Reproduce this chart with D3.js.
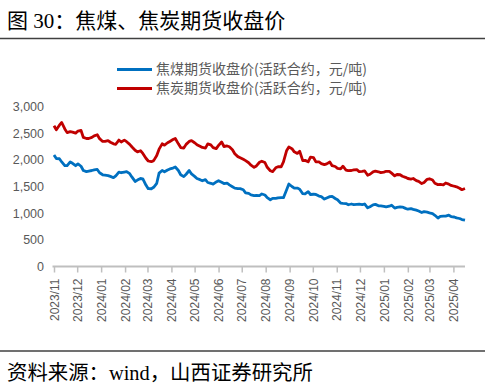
<!DOCTYPE html>
<html>
<head>
<meta charset="utf-8">
<script src="https://d3js.org/d3.v7.min.js"></script>
<style>
  html, body { margin: 0; padding: 0; background: #fff; }
</style>
</head>
<body>
<svg id="chart"></svg>
<script>
// 取样日期：每周三 + 每周六
const wedDates = [
  "2023-11-01","2023-11-08","2023-11-15","2023-11-22","2023-11-29","2023-12-06","2023-12-13","2023-12-20","2023-12-27",
  "2024-01-03","2024-01-10","2024-01-17","2024-01-24","2024-01-31","2024-02-07","2024-02-14","2024-02-21","2024-02-28",
  "2024-03-06","2024-03-13","2024-03-20","2024-03-27","2024-04-03","2024-04-10","2024-04-17","2024-04-24",
  "2024-05-01","2024-05-08","2024-05-15","2024-05-22","2024-05-29","2024-06-05","2024-06-12","2024-06-19","2024-06-26",
  "2024-07-03","2024-07-10","2024-07-17","2024-07-24","2024-07-31","2024-08-07","2024-08-14","2024-08-21","2024-08-28",
  "2024-09-04","2024-09-11","2024-09-18","2024-09-25","2024-10-02","2024-10-09","2024-10-16","2024-10-23","2024-10-30",
  "2024-11-06","2024-11-13","2024-11-20","2024-11-27","2024-12-04","2024-12-11","2024-12-18","2024-12-25",
  "2025-01-01","2025-01-08","2025-01-15","2025-01-22","2025-01-29","2025-02-05","2025-02-12","2025-02-19","2025-02-26",
  "2025-03-05","2025-03-12","2025-03-19","2025-03-26","2025-04-02","2025-04-09","2025-04-16"
];
const satDates = [
  "2023-11-04","2023-11-11","2023-11-18","2023-11-25","2023-12-02","2023-12-09","2023-12-16","2023-12-23","2023-12-30",
  "2024-01-06","2024-01-13","2024-01-20","2024-01-27","2024-02-03","2024-02-10","2024-02-17","2024-02-24","2024-03-02",
  "2024-03-09","2024-03-16","2024-03-23","2024-03-30","2024-04-06","2024-04-13","2024-04-20","2024-04-27",
  "2024-05-04","2024-05-11","2024-05-18","2024-05-25","2024-06-01","2024-06-08","2024-06-15","2024-06-22","2024-06-29",
  "2024-07-06","2024-07-13","2024-07-20","2024-07-27","2024-08-03","2024-08-10","2024-08-17","2024-08-24","2024-08-31",
  "2024-09-07","2024-09-14","2024-09-21","2024-09-28","2024-10-05","2024-10-12","2024-10-19","2024-10-26","2024-11-02",
  "2024-11-09","2024-11-16","2024-11-23","2024-11-30","2024-12-07","2024-12-14","2024-12-21","2024-12-28",
  "2025-01-04","2025-01-11","2025-01-18","2025-01-25","2025-02-01","2025-02-08","2025-02-15","2025-02-22","2025-03-01",
  "2025-03-08","2025-03-15","2025-03-22","2025-03-29","2025-04-05","2025-04-12"
];

// 焦煤期货收盘价
const coalWed = [
  2090,2020,1890,1960,1890,1880,1780,1800,1820,
  1720,1705,1665,1770,1770,1740,1595,1650,1528,
  1458,1560,1800,1810,1845,1800,1685,1800,
  1690,1628,1630,1560,1585,1580,1565,1495,1460,
  1440,1370,1330,1330,1340,1252,1276,1290,1435,
  1500,1470,1365,1404,1355,1320,1265,1310,1275,
  1190,1180,1172,1165,1160,1100,1155,1137,
  1128,1130,1095,1118,1090,1085,1056,1012,1018,
  990,908,945,962,928,900,868
];
const coalSat = [
  2024,1960,1890,1935,1925,1800,1790,1810,1757,
  1714,1690,1700,1758,1780,1675,1620,1645,1460,
  1485,1750,1776,1830,1865,1720,1730,1735,
  1650,1608,1575,1545,1610,1555,1530,1470,1460,
  1380,1342,1335,1360,1290,1278,1285,1290,1546,
  1470,1450,1362,1350,1350,1311,1285,1315,1250,
  1185,1158,1160,1168,1172,1120,1165,1137,
  1118,1150,1108,1115,1074,1070,1040,1028,1005,
  960,940,945,937,912,880
];

// 焦炭期货收盘价
const cokeWed = [
  2640,2650,2580,2530,2500,2550,2400,2420,2470,
  2345,2360,2300,2370,2370,2290,2180,2170,2030,
  1965,2080,2300,2320,2380,2300,2220,2345,
  2320,2255,2220,2280,2210,2335,2260,2190,2060,
  2010,1945,1860,1955,1950,1795,1850,1870,2170,
  2210,2120,1985,1962,2040,1962,1910,1960,1875,
  1830,1807,1800,1815,1785,1710,1775,1776,
  1770,1785,1700,1720,1672,1640,1610,1555,1635,
  1621,1535,1530,1545,1505,1468,1462
];
const cokeSat = [
  2565,2700,2510,2520,2540,2420,2400,2450,2397,
  2345,2330,2292,2335,2340,2240,2150,2120,1978,
  1985,2200,2275,2345,2400,2230,2290,2360,
  2285,2232,2300,2230,2270,2250,2245,2115,2040,
  1985,1900,1885,1975,1860,1780,1870,1960,2240,
  2150,2160,1990,2050,1962,1930,1925,1890,1840,
  1880,1796,1810,1780,1794,1730,1790,1760,
  1785,1750,1725,1692,1650,1650,1595,1575,1645,
  1560,1540,1565,1520,1495,1440
];

const seriesNames = ["焦煤期货收盘价(活跃合约，元/吨)", "焦炭期货收盘价(活跃合约，元/吨)"];
const seriesColors = ["#0070C0", "#C00000"];
const yTicks = [0, 500, 1000, 1500, 2000, 2500, 3000];
const tickMonths = [
  "2023-11-01","2023-12-01","2024-01-01","2024-02-01","2024-03-01","2024-04-01","2024-05-01","2024-06-01","2024-07-01",
  "2024-08-01","2024-09-01","2024-10-01","2024-11-01","2024-12-01","2025-01-01","2025-02-01","2025-03-01","2025-04-01"
];

const W = 485, H = 392;
const parse = d3.timeParse("%Y-%m-%d");
const fmtTick = d3.timeFormat("%Y/%m");

// 合并周三与周六的数据并按日期排序
function buildSeries(wedVals, satVals) {
  const pts = wedDates.map((d, i) => ({date: parse(d), value: wedVals[i]}))
    .concat(satDates.map((d, i) => ({date: parse(d), value: satVals[i]})));
  return pts.sort((a, b) => a.date - b.date);
}
const series = [buildSeries(coalWed, coalSat), buildSeries(cokeWed, cokeSat)];

const svg = d3.select("#chart").attr("width", W).attr("height", H);

// 标题
svg.append("text")
  .attr("x", 7).attr("y", 28)
  .attr("font-family", "'Liberation Serif', 'Noto Sans CJK SC', serif")
  .attr("font-size", 21)
  .attr("fill", "#000")
  .text("图 30：焦煤、焦炭期货收盘价");

svg.append("line")
  .attr("x1", 0).attr("x2", W).attr("y1", 38.5).attr("y2", 38.5)
  .attr("stroke", "#404040").attr("stroke-width", 1.5);

// 比例尺
const x = d3.scaleTime()
  .domain([parse(wedDates[0]), parse(wedDates[wedDates.length - 1])])
  .range([54, 465]);
const y = d3.scaleLinear().domain([0, 3000]).range([266.5, 106.5]);

// Y 轴
const yAxis = svg.append("g")
  .attr("transform", "translate(44,0)")
  .call(d3.axisLeft(y).tickValues(yTicks).tickSize(0).tickPadding(0).tickFormat(d3.format(",")));
yAxis.select(".domain").remove();
yAxis.selectAll("text")
  .attr("font-family", "'Liberation Sans', Arial, sans-serif")
  .attr("font-size", 12.5)
  .attr("fill", "#595959");

// X 轴
const xAxis = svg.append("g")
  .attr("transform", "translate(0,266.5)")
  .call(d3.axisBottom(x).tickValues(tickMonths.map(parse)).tickSize(6).tickFormat(fmtTick));
xAxis.select(".domain")
  .attr("d", "M52.5,0H465")
  .attr("stroke", "#BFBFBF").attr("stroke-width", 2);
xAxis.selectAll(".tick line").attr("stroke", "#BFBFBF").attr("stroke-width", 1.5);
xAxis.selectAll("text")
  .attr("font-family", "'Liberation Sans', Arial, sans-serif")
  .attr("font-size", 12)
  .attr("fill", "#595959")
  .attr("text-anchor", "end")
  .attr("transform", "rotate(-90)")
  .attr("x", -12)
  .attr("y", 0)
  .attr("dy", "0.35em");

// 折线
const line = d3.line()
  .x(d => x(d.date))
  .y(d => y(d.value));

series.forEach((pts, k) => {
  svg.append("path")
    .datum(pts)
    .attr("d", line)
    .attr("fill", "none")
    .attr("stroke", seriesColors[k])
    .attr("stroke-width", 2.8)
    .attr("stroke-linejoin", "round");
});

// 图例
seriesNames.forEach((name, k) => {
  const ly = 69.5 + k * 19;
  svg.append("line")
    .attr("x1", 117).attr("x2", 152).attr("y1", ly).attr("y2", ly)
    .attr("stroke", seriesColors[k]).attr("stroke-width", 3);
  svg.append("text")
    .attr("x", 156).attr("y", ly).attr("dy", "0.35em")
    .attr("font-family", "'Noto Sans CJK SC', sans-serif")
    .attr("font-size", 14)
    .attr("fill", "#595959")
    .text(name);
});

// 底部来源
svg.append("line")
  .attr("x1", 0).attr("x2", W).attr("y1", 351).attr("y2", 351)
  .attr("stroke", "#404040").attr("stroke-width", 1.5);

svg.append("text")
  .attr("x", 7).attr("y", 380)
  .attr("font-family", "'Liberation Serif', 'Noto Sans CJK SC', serif")
  .attr("font-size", 20.4)
  .attr("fill", "#000")
  .text("资料来源：wind，山西证券研究所");
</script>
</body>
</html>
